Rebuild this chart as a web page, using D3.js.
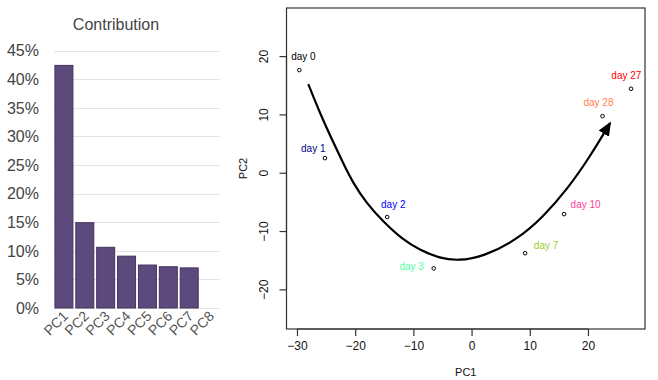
<!DOCTYPE html>
<html><head><meta charset="utf-8">
<script src="https://cdn.jsdelivr.net/npm/d3@7"></script>
<style>body{margin:0;background:#fff}svg{display:block}</style>
</head><body>
<svg id="c" width="658" height="380"></svg>
<script>
// ---- Bar chart data ----
const components = ["PC1","PC2","PC3","PC4","PC5","PC6","PC7","PC8"];
const contribution = [42.5, 15.0, 10.7, 9.15, 7.6, 7.3, 7.1, 0];
const pctTicks = [0,5,10,15,20,25,30,35,40,45];

// ---- PCA scatter data ----
const days = ["day 0","day 1","day 2","day 3","day 7","day 10","day 28","day 27"];
const pc1 = [-29.6, -25.2, -14.5, -6.5, 9.2, 15.9, 22.5, 27.4];
const pc2 = [17.6, 2.5, -7.6, -16.4, -13.8, -7.1, 9.7, 14.4];
const dayColors = ["#000000","#00008b","#0000ff","#54ff9f","#9acd32","#ff3e96","#ff7f50","#ff0000"];
const labelPC1 = [-28.9, -27.2, -13.45, -10.3, 12.8, 19.6, 21.8, 26.6];
const labelPC2 = [19.9, 4.2, -5.5, -16.1, -12.4, -5.4, 12.0, 16.6];
const trendPC1 = [-28.06,-26.05,-23.76,-22.04,-20.33,-18.02,-15.17,-11.74,-8.87,-5.43,-2.3,2.01,7.75,12.32,16.34,20.34,23.78];
const trendPC2 = [15.21,10.19,5.2,1.61,-1.82,-5.25,-8.40,-11.54,-13.26,-14.68,-15.1,-14.41,-11.54,-7.55,-2.97,2.74,8.47];
const xTicks = [-30,-20,-10,0,10,20];
const yTicks = [-20,-10,0,10,20];

const svg = d3.select("#c");
const font = "Arial, 'Liberation Sans', Helvetica, sans-serif";

// ===== Bar chart =====
const bx = d3.scaleBand().domain(components).range([54, 220]).paddingInner(0.09).paddingOuter(0.02);
const by = d3.scaleLinear().domain([0, 45]).range([308, 50.6]);
const bar = svg.append("g");
bar.append("text").attr("x", 116).attr("y", 30).attr("text-anchor","middle")
  .attr("font-family", font).attr("font-size", 16).attr("fill","#444").text("Contribution");
bar.selectAll("line.grid").data(pctTicks).enter().append("line")
  .attr("x1", 54).attr("x2", 220).attr("y1", d => Math.round(by(d))+0.5).attr("y2", d => Math.round(by(d))+0.5)
  .attr("stroke", "#e3e3e3").attr("stroke-width", 1);
bar.selectAll("text.yl").data(pctTicks).enter().append("text")
  .attr("x", 39).attr("y", d => by(d)).attr("dy","0.36em").attr("text-anchor","end")
  .attr("font-family", font).attr("font-size", 16).attr("fill","#444").text(d => d + "%");
bar.selectAll("rect").data(components.map((c,i)=>({c, v:contribution[i]}))).enter().append("rect")
  .attr("x", d => bx(d.c)+0.5).attr("width", bx.bandwidth()-1)
  .attr("y", d => by(d.v)+0.5).attr("height", d => Math.max(0, by(0)-by(d.v)-0.5))
  .attr("fill", "#5d4a7c").attr("stroke", "#45335f").attr("stroke-width", 1)
  .style("display", d => d.v > 0 ? null : "none");
bar.selectAll("text.xl").data(components).enter().append("text")
  .attr("transform", d => `translate(${bx(d)+bx.bandwidth()/2+5},${317}) rotate(-45)`)
  .attr("text-anchor","end").attr("font-family", font).attr("font-size", 14).attr("fill","#555")
  .text(d => d);

// ===== PCA scatter =====
const sx = d3.scaleLinear().domain([-31.8, 29.8]).range([286.5, 645]);
const sy = d3.scaleLinear().domain([-26.8, 28.25]).range([329, 8]);
const sc = svg.append("g");
sc.append("rect").attr("x", sx.range()[0]).attr("y", sy.range()[1])
  .attr("width", sx.range()[1]-sx.range()[0]).attr("height", sy.range()[0]-sy.range()[1])
  .attr("fill","none").attr("stroke","#333").attr("stroke-width",1.2);

const xAxis = d3.axisBottom(sx).tickValues(xTicks).tickSize(7).tickPadding(5).tickFormat(d => d < 0 ? "\u2212"+Math.abs(d) : d);
const gx = sc.append("g").attr("transform", `translate(0,${sy.range()[0]})`).call(xAxis);
const yAxis = d3.axisLeft(sy).tickValues(yTicks).tickSize(7).tickPadding(5).tickFormat(d => d < 0 ? "\u2212"+Math.abs(d) : d);
const gy = sc.append("g").attr("transform", `translate(${sx.range()[0]},0)`).call(yAxis);
[gx, gy].forEach(g => {
  g.select(".domain").attr("stroke","#333").attr("stroke-width",1.2);
  g.selectAll(".tick line").attr("stroke","#333").attr("stroke-width",1.2);
  g.selectAll(".tick text").attr("font-family", font).attr("font-size", 12).attr("fill","#111");
});
gx.select(".domain").attr("d", `M${sx(-30)},0H${sx(20)}`);
gy.select(".domain").attr("d", `M0,${sy(-20)}V${sy(20)}`);
gy.selectAll(".tick text").attr("text-anchor","middle").attr("dy", null)
  .attr("transform","rotate(-90)").attr("x", 0).attr("y", -19);

sc.append("text").attr("x", (sx.range()[0]+sx.range()[1])/2).attr("y", 376).attr("text-anchor","middle")
  .attr("font-family", font).attr("font-size", 11).attr("fill","#111").text("PC1");
sc.append("text").attr("transform", `translate(247,${(sy.range()[0]+sy.range()[1])/2}) rotate(-90)`)
  .attr("text-anchor","middle").attr("font-family", font).attr("font-size", 11).attr("fill","#111").text("PC2");

// arrow
svg.append("defs").append("marker").attr("id","arrow").attr("markerUnits","userSpaceOnUse")
  .attr("viewBox","0 0 14 12").attr("refX", 12).attr("refY", 6).attr("markerWidth", 14).attr("markerHeight", 12)
  .attr("orient","auto").append("path").attr("d","M0,0L14,6L0,12Z").attr("fill","#000");
const trend = trendPC1.map((x,i)=>[x, trendPC2[i]]);
sc.append("path").datum(trend)
  .attr("d", d3.line().x(d=>sx(d[0])).y(d=>sy(d[1])).curve(d3.curveBasis))
  .attr("fill","none").attr("stroke","#000").attr("stroke-width",2.2).attr("marker-end","url(#arrow)");

// points
sc.selectAll("circle").data(pc1.map((x,i)=>[x,pc2[i]])).enter().append("circle")
  .attr("cx", d=>sx(d[0])).attr("cy", d=>sy(d[1])).attr("r", 1.8)
  .attr("fill","none").attr("stroke","#000").attr("stroke-width",1);
// labels
sc.selectAll("text.lab").data(days).enter().append("text")
  .attr("x", (d,i)=>sx(labelPC1[i])).attr("y", (d,i)=>sy(labelPC2[i])).attr("dy","0.35em")
  .attr("text-anchor","middle").attr("font-family", font).attr("font-size", 10)
  .attr("fill", (d,i)=>dayColors[i]).text(d=>d);
</script>
</body></html>
